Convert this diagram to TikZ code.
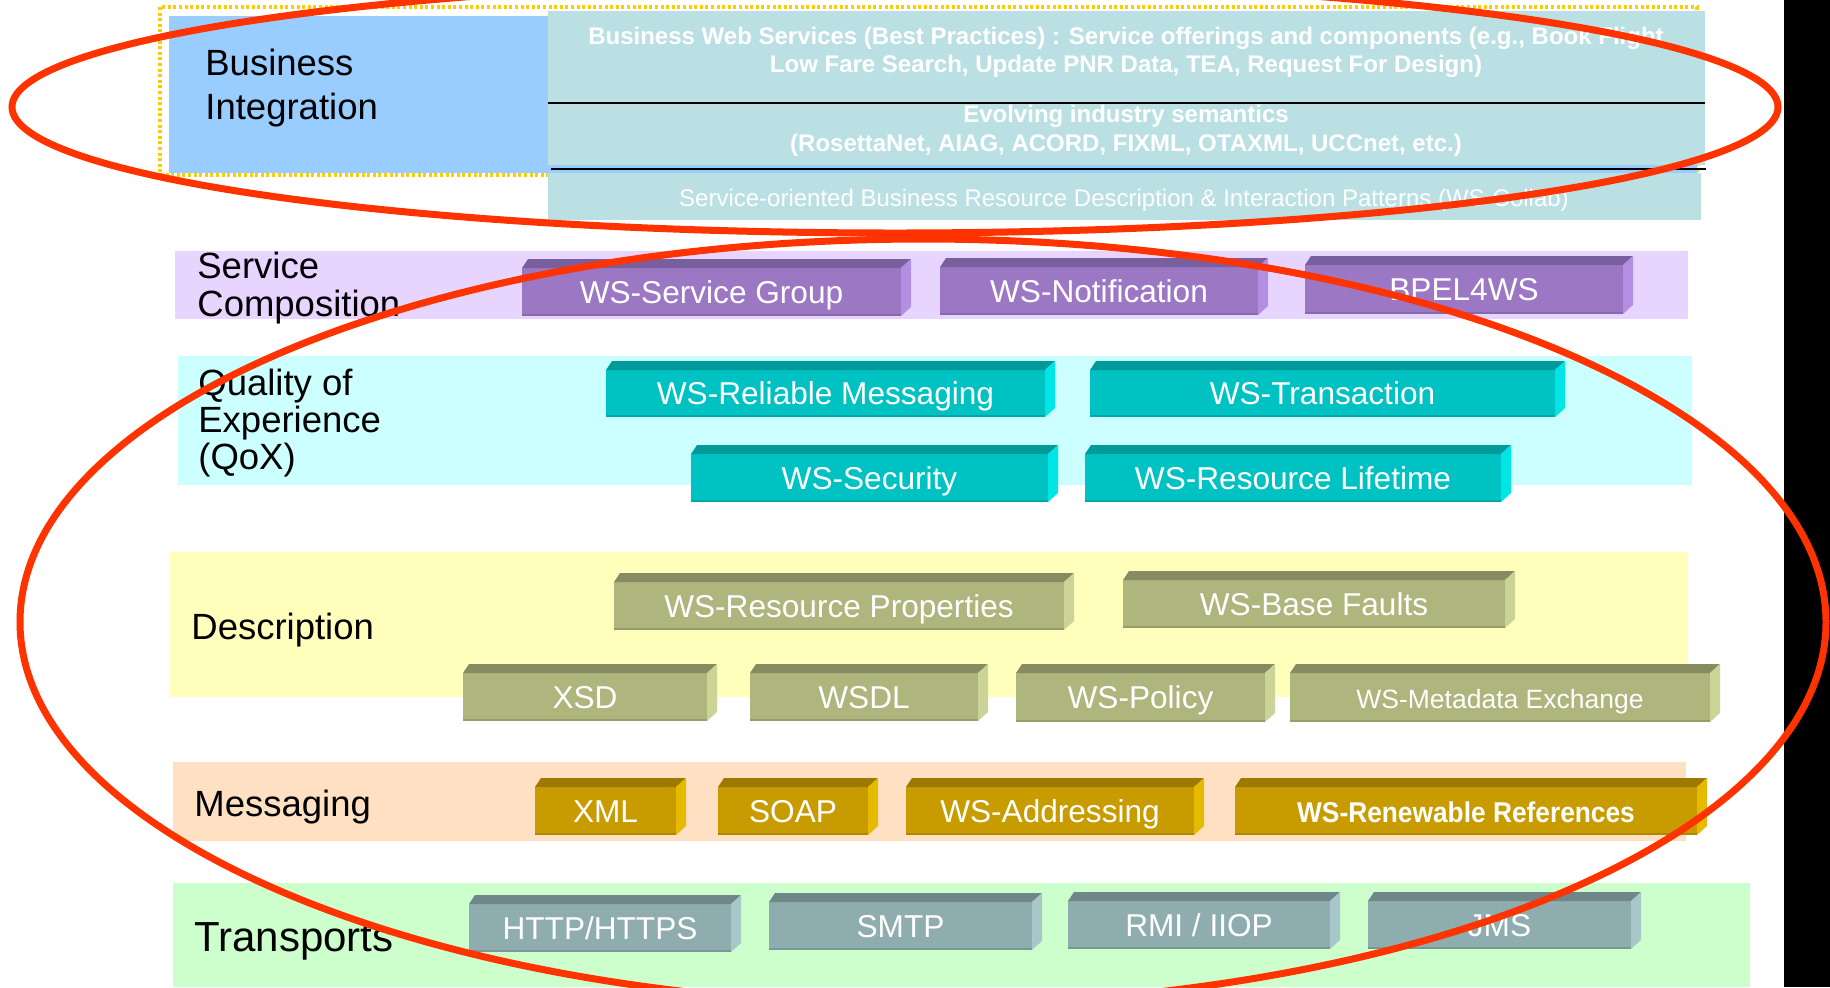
\documentclass[tikz,border=0pt]{standalone}
\usepackage{fontspec}
\setmainfont{Liberation Sans}
\usepackage{graphicx}
\definecolor{pF}{HTML}{9B77C4}\definecolor{pT}{HTML}{7A5F9E}\definecolor{pS}{HTML}{B38FE3}
\definecolor{tF}{HTML}{00C2C2}\definecolor{tT}{HTML}{009A9A}\definecolor{tS}{HTML}{00E6E6}
\definecolor{oF}{HTML}{AEB57D}\definecolor{oT}{HTML}{878B62}\definecolor{oS}{HTML}{CBD496}
\definecolor{gF}{HTML}{C89C00}\definecolor{gT}{HTML}{9C7A00}\definecolor{gS}{HTML}{E6BA00}
\definecolor{sF}{HTML}{8FADAF}\definecolor{sT}{HTML}{6F8789}\definecolor{sS}{HTML}{A7C7CA}
\definecolor{bizblue}{HTML}{99CCFF}
\definecolor{bizteal}{HTML}{BBE0E3}
\definecolor{lav}{HTML}{E8D5FF}
\definecolor{cyanband}{HTML}{CCFFFF}
\definecolor{yelband}{HTML}{FFFFBB}
\definecolor{peach}{HTML}{FFE0C2}
\definecolor{greenband}{HTML}{CCFFCC}
\definecolor{dotyel}{HTML}{FFCC00}
\definecolor{redring}{RGB}{255,51,0}
\newcommand{\barfont}{\fontsize{15.8pt}{18pt}\selectfont}
\newcommand{\wsbar}[7]{%
  \node[inner sep=0pt, outer sep=0pt, fill=#6F, text=white, font=\barfont,
        text height=12pt, text depth=0.7pt,
        minimum width={(#3-#2)*0.5pt}, minimum height={(#5-#4)*0.5pt}]
        (#1) at ({(#2+#3)/2},{(#4+#5)/2}) {#7};
  \fill[#6T] (#1.north west) -- ++(6,-9) -- ([shift={(10,-9)}]#1.north east) -- (#1.north east) -- cycle;
  \fill[#6S] (#1.north east) -- ++(10,-9) -- ([shift={(10,-9)}]#1.south east) -- (#1.south east) -- cycle;
  \draw[#6T!60!#6F, line width=1pt] ([yshift=0.5pt]#1.south west) -- ([yshift=0.5pt]#1.south east);
}
\tikzset{
  lab/.style={anchor=west, inner sep=0pt, align=left, text=black},
  biztext/.style={text=white, align=center, inner sep=0pt},
  ring/.style={draw=redring, line width=3.5pt},
}
\begin{document}
\begin{tikzpicture}[x=0.5pt,y=-0.5pt]
\useasboundingbox (0,0) rectangle (1830,987);
\clip (0,0) rectangle (1830,987);
\fill[white] (0,0) rectangle (1830,987);
% black bar at right
\fill[black] (1784,0) rectangle (1830,987);

% Business integration
\draw[dotyel, line width=1.6pt, dash pattern=on 1.5pt off 1.3pt] (160,7) rectangle (1697,175);
\fill[bizblue] (169,16) rectangle (1697,173);
\fill[bizteal] (548,11) rectangle (1705,165);
\fill[bizteal] (548,173) rectangle (1701,220);
\draw[black, line width=0.8pt] (548,103) -- (1705,103);
\draw[black, line width=0.8pt] (551,169) -- (1706,169);
\node[lab, font=\fontsize{18.25pt}{22pt}\selectfont] (bizlab) at (205,88) {Business\\Integration};
\node[biztext, font=\bfseries\fontsize{12pt}{14pt}\selectfont] (bws) at (1126,52.5) {Business Web Services (Best Practices) : Service offerings and components (e.g., Book Flight\\Low Fare Search, Update PNR Data, TEA, Request For Design)};
\node[biztext, font=\bfseries\fontsize{12pt}{14.5pt}\selectfont] (evo) at (1126,130.5) {Evolving industry semantics\\(RosettaNet, AIAG, ACORD, FIXML, OTAXML, UCCnet, etc.)};
\node[biztext, font=\fontsize{12pt}{14pt}\selectfont] (soa) at (1124,200.5) {Service-oriented Business Resource Description \& Interaction Patterns (WS-Collab)};

% Service composition
\fill[lav] (175,251) rectangle (1688,319);
\node[lab, font=\fontsize{18.25pt}{19pt}\selectfont] (sclab) at (197,288) {Service\\Composition};
\wsbar{sg}{522}{901}{268}{316}{p}{WS-Service Group}
\wsbar{notif}{940}{1258}{267}{315}{p}{WS-Notification}
\wsbar{bpel}{1305}{1623}{265}{314}{p}{BPEL4WS}

% QoX
\fill[cyanband] (178,356) rectangle (1692,485);
\node[lab, font=\fontsize{18.25pt}{18.5pt}\selectfont] (qlab) at (198,423.5) {Quality of\\Experience\\(QoX)};
\wsbar{rm}{606}{1045}{370}{417}{t}{WS-Reliable Messaging}
\wsbar{tx}{1090}{1555}{370}{417}{t}{WS-Transaction}
\wsbar{sec}{691}{1048}{454}{502}{t}{WS-Security}
\wsbar{rl}{1085}{1501}{454}{502}{t}{WS-Resource Lifetime}

% Description
\fill[yelband] (170,552) rectangle (1688,697);
\node[lab, font=\fontsize{18.25pt}{22pt}\selectfont] (dlab) at (191,630.5) {Description};
\wsbar{rp}{614}{1064}{582}{630}{o}{WS-Resource Properties}
\wsbar{bf}{1123}{1505}{580}{628}{o}{WS-Base Faults}
\wsbar{xsd}{463}{707}{673}{721}{o}{XSD}
\wsbar{wsdl}{750}{978}{673}{721}{o}{WSDL}
\wsbar{pol}{1016}{1265}{673}{722}{o}{WS-Policy}
\wsbar{mex}{1290}{1710}{673}{722}{o}{\fontsize{13.25pt}{15pt}\selectfont WS-Metadata Exchange}

% Messaging
\fill[peach] (173,762) rectangle (1686,841);
\node[lab, font=\fontsize{18.25pt}{22pt}\selectfont] (mlab) at (194,807.5) {Messaging};
\wsbar{xml}{535}{676}{787}{835}{g}{XML}
\wsbar{soap}{718}{868}{787}{835}{g}{SOAP}
\wsbar{addr}{906}{1194}{787}{835}{g}{WS-Addressing}
\wsbar{ren}{1235}{1697}{787}{835}{g}{\scalebox{0.92}[1]{\bfseries\fontsize{14.3pt}{16pt}\selectfont WS-Renewable References}}

% Transports
\fill[greenband] (173,883) rectangle (1750,987);
\node[lab, font=\fontsize{21pt}{24pt}\selectfont] (trlab) at (194,941.5) {Transports};
\wsbar{http}{469}{731}{904}{952}{s}{HTTP/HTTPS}
\wsbar{smtp}{769}{1032}{902}{950}{s}{SMTP}
\wsbar{rmi}{1068}{1330}{901}{949}{s}{RMI / IIOP}
\wsbar{jms}{1368}{1631}{901}{949}{s}{JMS}

% red rings
\draw[ring] (895,107) ellipse [x radius=441.5pt, y radius=63pt];
\draw[ring] (923,622) ellipse [x radius=451.5pt, y radius=191.5pt];
\end{tikzpicture}
\end{document}
